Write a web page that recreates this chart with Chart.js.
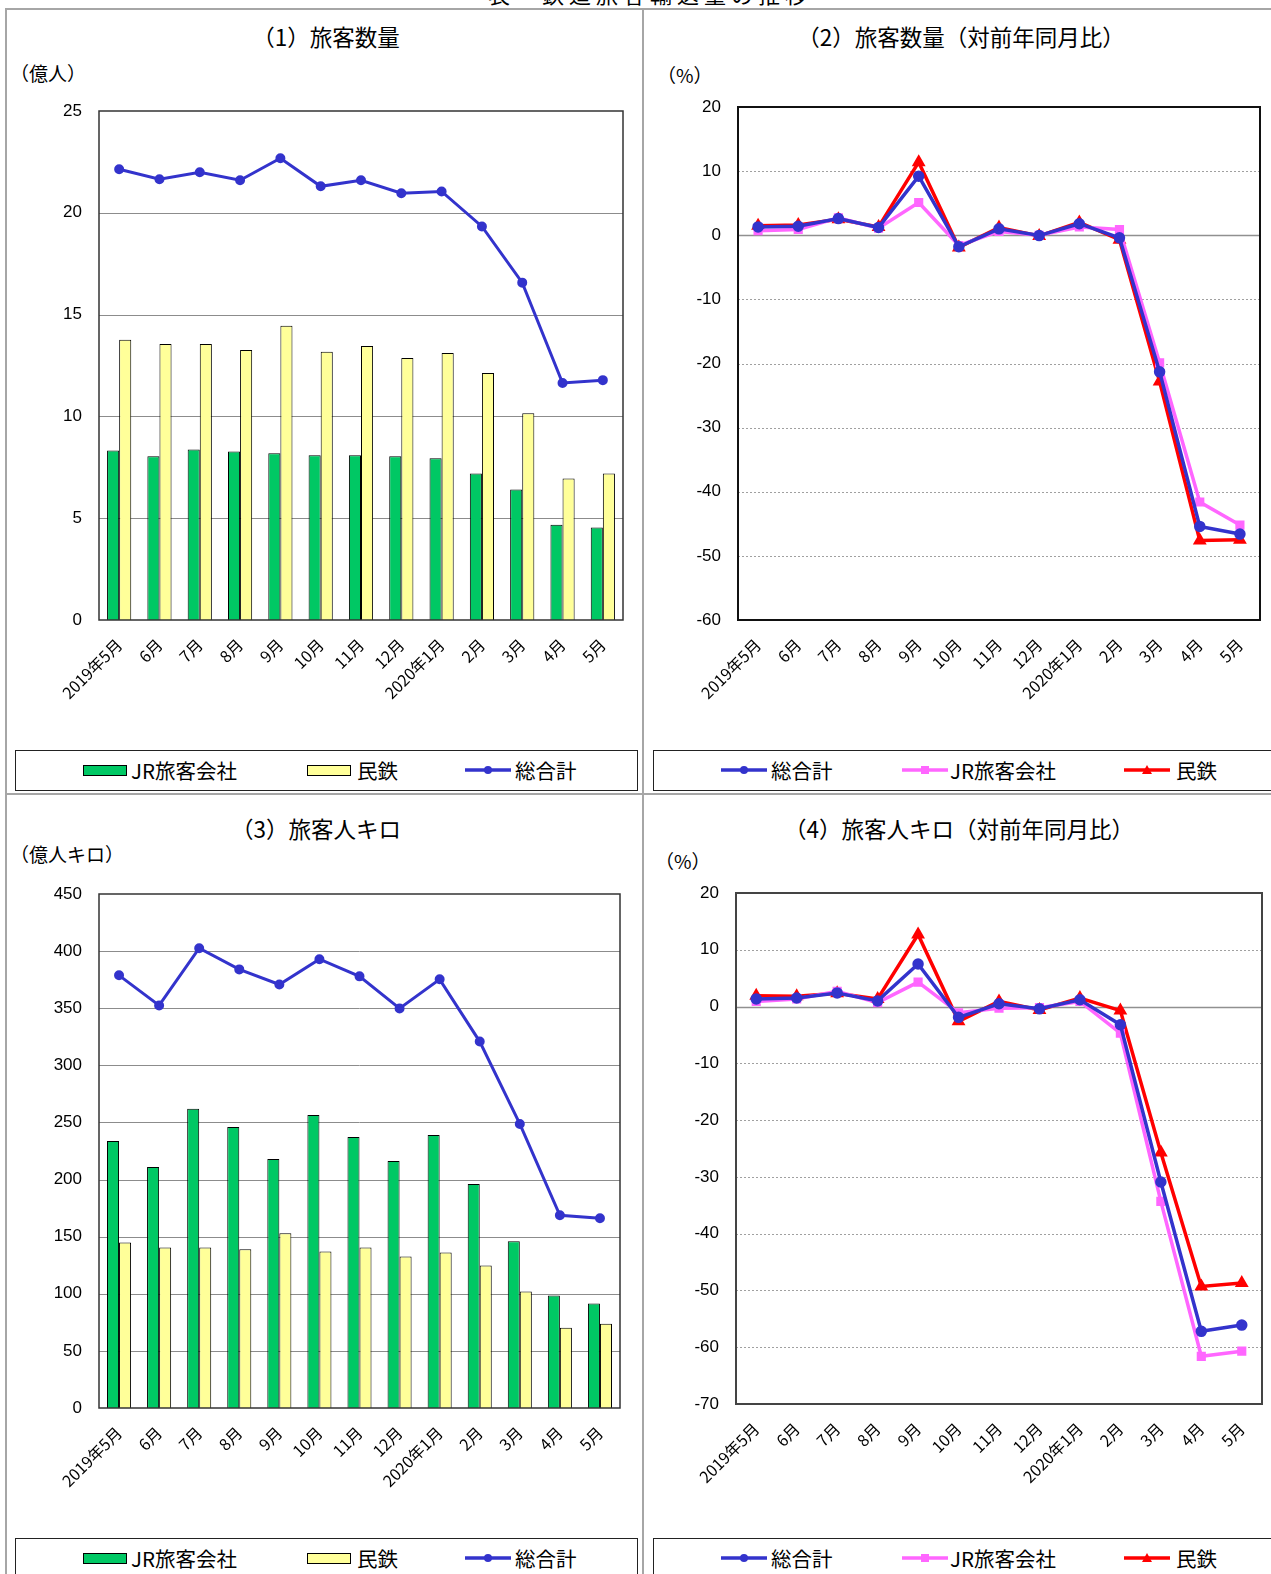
<!DOCTYPE html>
<html><head><meta charset="utf-8">
<script src="https://cdn.jsdelivr.net/npm/chart.js@4/dist/chart.umd.min.js"></script>
<style>
html,body{margin:0;padding:0;background:#fff;}
#page{position:relative;width:1271px;height:1574px;overflow:hidden;font-family:"Noto Sans CJK JP",sans-serif;color:#000;}
.ln{position:absolute;background:#a6a6a6;}
.title{position:absolute;font-size:22.5px;white-space:nowrap;transform:translate(-50%,-50%);line-height:1;}
.unit{position:absolute;font-size:19px;white-space:nowrap;transform:translateY(-50%);line-height:1;}
.lgbox{position:absolute;border:1.5px solid #222;box-sizing:border-box;background:#fff;}
.lgtext{position:absolute;font-size:20.5px;white-space:nowrap;transform:translateY(-50%);line-height:1;}
.sw{position:absolute;border:1px solid #000;box-sizing:border-box;width:44px;height:11px;}
canvas{position:absolute;}
svg{position:absolute;}
</style></head>
<body>
<div id="page">
  <div class="title" style="left:650px;top:-7px;font-size:22px;letter-spacing:5px;">表　鉄道旅客輸送量の推移</div>
  <div class="ln" style="left:5px;top:8px;width:1266px;height:1.5px;"></div>
  <div class="ln" style="left:5px;top:8px;width:1.5px;height:1566px;"></div>
  <div class="ln" style="left:642px;top:8px;width:1.5px;height:1566px;"></div>
  <div class="ln" style="left:5px;top:793px;width:1266px;height:1.5px;"></div>

  <div class="title" style="left:326px;top:36px;">（1）旅客数量</div>
  <div class="title" style="left:961px;top:36px;">（2）旅客数量（対前年同月比）</div>
  <div class="title" style="left:316px;top:828px;">（3）旅客人キロ</div>
  <div class="title" style="left:959px;top:828px;">（4）旅客人キロ（対前年同月比）</div>

  <div class="unit" style="left:10px;top:72px;">（億人）</div>
  <div class="unit" style="left:657px;top:74px;">（%）</div>
  <div class="unit" style="left:10px;top:853px;">（億人キロ）</div>
  <div class="unit" style="left:655px;top:860px;">（%）</div>

  <canvas id="c1" width="613" height="653" style="left:20px;top:95px;"></canvas>
  <canvas id="c2" width="620" height="658" style="left:650px;top:90px;"></canvas>
  <canvas id="c3" width="610" height="661" style="left:20px;top:875px;"></canvas>
  <canvas id="c4" width="622" height="661" style="left:650px;top:874px;"></canvas>

  <div id="legends"></div>
</div>
<script>
// ---- data ----
const months = ["2019年5月","6月","7月","8月","9月","10月","11月","12月","2020年1月","2月","3月","4月","5月"];
const seriesNames = { jr: "JR旅客会社", priv: "民鉄", total: "総合計" };

// (1) 旅客数量 (億人)
const passJR      = [8.33, 8.04, 8.38, 8.28, 8.19, 8.09, 8.09, 8.04, 7.94, 7.20, 6.41, 4.68, 4.54];
const passPrivate = [13.76, 13.56, 13.56, 13.26, 14.45, 13.17, 13.46, 12.87, 13.12, 12.13, 10.16, 6.95, 7.20];
const passTotal   = [22.14, 21.65, 21.99, 21.60, 22.68, 21.30, 21.60, 20.96, 21.05, 19.33, 16.57, 11.64, 11.78];

// (2) 旅客数量 対前年同月比 (%)
const passYoYTotal   = [1.3, 1.4, 2.6, 1.2, 9.2, -1.8, 1.0, -0.05, 1.8, -0.4, -21.3, -45.4, -46.6];
const passYoYJR      = [0.7, 0.9, 2.7, 1.1, 5.1, -1.6, 0.6, 0.0, 1.3, 0.9, -19.9, -41.6, -45.2];
const passYoYPrivate = [1.5, 1.6, 2.5, 1.3, 11.4, -1.9, 1.2, -0.1, 2.0, -0.7, -22.8, -47.6, -47.5];

// (3) 旅客人キロ (億人キロ)
const kmJR      = [233.8, 210.9, 261.9, 246.1, 218.0, 256.6, 237.3, 216.2, 239.1, 196.0, 145.9, 98.4, 91.4];
const kmPrivate = [145.0, 140.6, 140.6, 138.9, 153.0, 137.1, 140.6, 132.7, 136.2, 124.8, 102.0, 70.3, 73.8];
const kmTotal   = [378.8, 352.4, 402.5, 384.0, 370.8, 392.9, 377.9, 349.8, 375.3, 320.8, 248.7, 168.7, 166.1];

// (4) 旅客人キロ 対前年同月比 (%)
const kmYoYTotal   = [1.35, 1.5, 2.4, 1.0, 7.5, -1.9, 0.5, -0.4, 1.2, -3.2, -30.9, -57.2, -56.1];
const kmYoYJR      = [0.9, 1.35, 2.7, 0.7, 4.3, -1.1, -0.3, -0.2, 0.9, -4.7, -34.3, -61.6, -60.7];
const kmYoYPrivate = [1.9, 1.8, 2.35, 1.35, 12.7, -2.6, 0.9, -0.6, 1.5, -0.7, -25.7, -49.3, -48.7];

// ---- styles ----
const C_GREEN = "#00C864", C_YELLOW = "#FFFF99", C_BLUE = "#3333CC", C_PINK = "#FF66FF", C_RED = "#FF0000";

const framePlugin = {
  id: 'frame',
  beforeDatasetsDraw(chart, args, opts) {
    const {ctx, chartArea: a, scales: {y}} = chart;
    ctx.save();
    y.ticks.forEach(t => {
      if (t.value === y.min || t.value === y.max) return;
      const py = Math.round(y.getPixelForValue(t.value)) + 0.5;
      ctx.beginPath();
      if (opts.dotted && t.value !== 0) {
        ctx.setLineDash([2, 2]); ctx.strokeStyle = '#a0a0a0'; ctx.lineWidth = 1;
      } else {
        ctx.setLineDash([]); ctx.strokeStyle = opts.dotted ? '#909090' : '#8c8c8c'; ctx.lineWidth = opts.dotted ? 1.5 : 1;
      }
      ctx.moveTo(a.left, py); ctx.lineTo(a.right, py); ctx.stroke();
    });
    ctx.restore();
  },
  afterDraw(chart, args, opts) {
    const {ctx, chartArea: a} = chart;
    ctx.save();
    ctx.setLineDash([]);
    ctx.strokeStyle = opts.boxColor || '#222';
    ctx.lineWidth = opts.boxWidth || 1.5;
    ctx.strokeRect(a.left, a.top, a.right - a.left, a.bottom - a.top);
    ctx.restore();
  }
};

function baseOptions(o) {
  return {
    responsive: false,
    animation: false,
    layout: { padding: { top: o.padTop, right: 10, left: 0, bottom: 0 } },
    plugins: {
      legend: { display: false },
      tooltip: { enabled: false },
      frame: { dotted: o.dotted, boxColor: o.boxColor, boxWidth: o.boxWidth }
    },
    scales: {
      x: {
        offset: true,
        grid: { display: false, drawTicks: false },
        border: { display: false },
        ticks: {
          autoSkip: false, minRotation: 45, maxRotation: 45, padding: 15,
          color: '#000', font: { family: '"Noto Sans CJK JP", sans-serif', size: 16 }
        },
        afterFit: s => { s.height = o.xHeight; }
      },
      y: {
        min: o.min, max: o.max,
        grid: { display: false, drawTicks: true, tickLength: 14 },
        border: { display: false },
        ticks: {
          stepSize: o.step, padding: 3, color: '#000',
          font: { family: '"Liberation Sans", Arial, sans-serif', size: 17 }
        },
        afterFit: s => { s.width = o.yWidth; }
      }
    }
  };
}

function barLineChart(id, jr, priv, total, o) {
  return new Chart(document.getElementById(id), {
    type: 'bar',
    data: {
      labels: months,
      datasets: [
        { type: 'bar', label: seriesNames.jr, data: jr, backgroundColor: C_GREEN, borderColor: '#000', borderWidth: 1, barPercentage: 1, categoryPercentage: 0.6, order: 2 },
        { type: 'bar', label: seriesNames.priv, data: priv, backgroundColor: C_YELLOW, borderColor: '#000', borderWidth: 1, barPercentage: 1, categoryPercentage: 0.6, order: 2 },
        { type: 'line', label: seriesNames.total, data: total, borderColor: C_BLUE, backgroundColor: C_BLUE, borderWidth: 3, pointRadius: 3.5, pointStyle: 'circle', tension: 0, order: 0 }
      ]
    },
    options: baseOptions(o),
    plugins: [framePlugin]
  });
}

function lineChart(id, total, jr, priv, o) {
  return new Chart(document.getElementById(id), {
    type: 'line',
    data: {
      labels: months,
      datasets: [
        { label: seriesNames.total, data: total, borderColor: C_BLUE, backgroundColor: C_BLUE, borderWidth: 3.5, pointRadius: 4, pointStyle: 'circle', tension: 0 },
        { label: seriesNames.jr, data: jr, borderColor: C_PINK, backgroundColor: C_PINK, borderWidth: 3.5, pointRadius: 4, pointStyle: 'rect', tension: 0 },
        { label: seriesNames.priv, data: priv, borderColor: C_RED, backgroundColor: C_RED, borderWidth: 3.5, pointRadius: 4.5, pointStyle: 'triangle', tension: 0 }
      ]
    },
    options: baseOptions(o),
    plugins: [framePlugin]
  });
}

barLineChart('c1', passJR, passPrivate, passTotal, { min: 0, max: 25, step: 5, yWidth: 79, xHeight: 128, padTop: 16, dotted: false, boxColor: '#333', boxWidth: 1.5 });
lineChart('c2', passYoYTotal, passYoYJR, passYoYPrivate, { min: -60, max: 20, step: 10, yWidth: 88, xHeight: 128, padTop: 17, dotted: true, boxColor: '#111', boxWidth: 2 });
barLineChart('c3', kmJR, kmPrivate, kmTotal, { min: 0, max: 450, step: 50, yWidth: 79, xHeight: 128, padTop: 19, dotted: false, boxColor: '#333', boxWidth: 1.5 });
lineChart('c4', kmYoYTotal, kmYoYJR, kmYoYPrivate, { min: -70, max: 20, step: 10, yWidth: 86, xHeight: 131, padTop: 19, dotted: true, boxColor: '#444', boxWidth: 2 });

// ---- HTML legends ----
function markerSVG(x, y, color, style) {
  let m = '';
  if (style === 'circle') m = `<circle cx="23" cy="6" r="4" fill="${color}"/>`;
  if (style === 'rect') m = `<rect x="19" y="2" width="8" height="8" fill="${color}"/>`;
  if (style === 'triangle') m = `<polygon points="23,1 28,10 18,10" fill="${color}"/>`;
  return `<svg width="46" height="12" style="left:${x}px;top:${y - 6}px"><line x1="0" y1="6" x2="46" y2="6" stroke="${color}" stroke-width="3.5"/>${m}</svg>`;
}
function barLegend(left, top, cy) {
  return `<div class="lgbox" style="left:${left}px;top:${top}px;width:623px;height:41px;"></div>` +
    `<div class="sw" style="left:83px;top:${cy - 5}px;background:${C_GREEN}"></div><div class="lgtext" style="left:131px;top:${cy}px">${seriesNames.jr}</div>` +
    `<div class="sw" style="left:307px;top:${cy - 5}px;background:${C_YELLOW}"></div><div class="lgtext" style="left:357px;top:${cy}px">${seriesNames.priv}</div>` +
    markerSVG(465, cy, C_BLUE, 'circle') + `<div class="lgtext" style="left:515px;top:${cy}px">${seriesNames.total}</div>`;
}
function lineLegend(left, top, cy) {
  return `<div class="lgbox" style="left:${left}px;top:${top}px;width:640px;height:41px;"></div>` +
    markerSVG(721, cy, C_BLUE, 'circle') + `<div class="lgtext" style="left:771px;top:${cy}px">${seriesNames.total}</div>` +
    markerSVG(902, cy, C_PINK, 'rect') + `<div class="lgtext" style="left:950px;top:${cy}px">${seriesNames.jr}</div>` +
    markerSVG(1124, cy, C_RED, 'triangle') + `<div class="lgtext" style="left:1176px;top:${cy}px">${seriesNames.priv}</div>`;
}
document.getElementById('legends').innerHTML =
  barLegend(15, 750, 770) + lineLegend(653, 750, 770) +
  barLegend(15, 1538, 1558) + lineLegend(653, 1538, 1558);
</script>
</body></html>
